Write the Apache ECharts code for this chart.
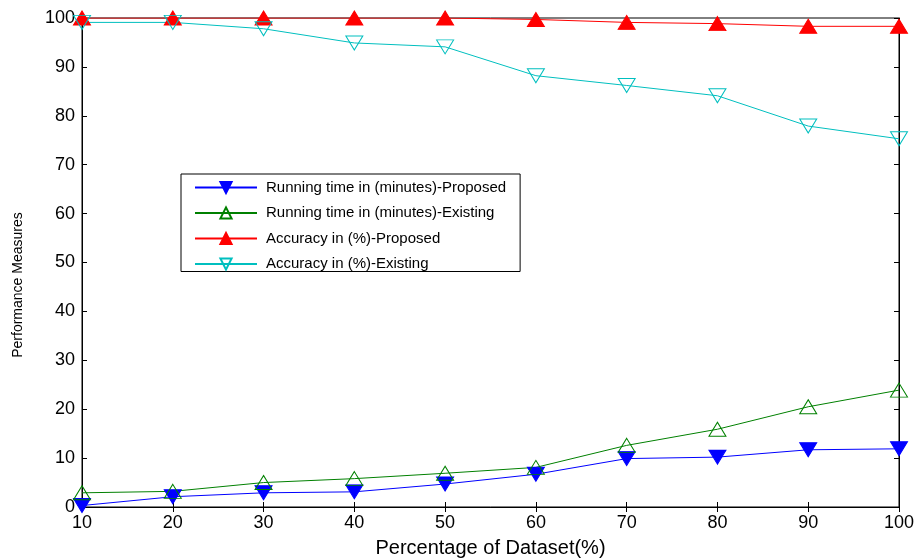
<!DOCTYPE html>
<html>
<head>
<meta charset="utf-8">
<script src="https://cdn.jsdelivr.net/npm/echarts@6/dist/echarts.min.js"></script>
<style>
  html, body { margin: 0; padding: 0; background: #fff; }
  #chart { width: 919px; height: 559px; }
</style>
</head>
<body>
<div id="chart"></div>
<script>
  var xData = [10, 20, 30, 40, 50, 60, 70, 80, 90, 100];
  var runProposed = [0.3, 2.1, 2.9, 3.1, 4.7, 6.7, 9.9, 10.2, 11.7, 11.9];
  var runExisting = [2.9, 3.2, 5.0, 5.8, 6.9, 8.1, 12.6, 15.9, 20.5, 23.9];
  var accProposed = [100, 100, 100, 100, 100, 99.7, 99.1, 98.85, 98.3, 98.3];
  var accExisting = [99.1, 99.1, 97.8, 94.9, 94.1, 88.2, 86.2, 84.1, 77.9, 75.3];
  var seriesNames = [
    "Running time in (minutes)-Proposed",
    "Running time in (minutes)-Existing",
    "Accuracy in (%)-Proposed",
    "Accuracy in (%)-Existing"
  ];

  function pairs(vals) {
    return xData.map(function (x, i) { return [x, vals[i]]; });
  }

  var font = "Arial, 'Liberation Sans', Helvetica, sans-serif";
  var chart = echarts.init(document.getElementById("chart"));

  var axisLine = { lineStyle: { color: "#000", width: 1 } };
  var tick = { inside: true, length: 5, lineStyle: { color: "#000" } };

  // open markers get a transparent fill so the lines below stay visible
  function lineSeries(i, vals, filled, rotate, color) {
    return {
      name: seriesNames[i], type: "line", data: pairs(vals),
      symbol: "triangle", symbolRotate: rotate, symbolSize: [17, 14],
      showAllSymbol: true,
      lineStyle: { color: color, width: 1 },
      itemStyle: { color: filled ? color : "rgba(255,255,255,0)", borderColor: color, borderWidth: 1 },
      emphasis: { disabled: true }
    };
  }

  chart.setOption({
    animation: false,
    textStyle: { fontFamily: font },
    grid: {
      left: 82, right: 20, top: 18, bottom: 52,
      outerBoundsMode: "none",
      show: true, borderColor: "#000", borderWidth: 1
    },
    legend: {
      data: seriesNames,
      orient: "vertical",
      left: 181,
      top: 174,
      padding: [6, 14, 0, 13],
      itemWidth: 62,
      itemHeight: 14,
      itemGap: 10.5,
      borderColor: "#000",
      borderWidth: 1,
      backgroundColor: "#fff",
      textStyle: { fontSize: 15, color: "#000", fontFamily: font, padding: [0, 0, 0, 4] }
    },
    graphic: [{
      type: "text",
      x: 18, y: 285,
      rotation: Math.PI / 2,
      style: {
        text: "Performance Measures", fill: "#000",
        font: "14px " + font, align: "center", verticalAlign: "middle"
      }
    }],
    xAxis: [{
      type: "value", min: 10, max: 100, interval: 10,
      name: "Percentage of Dataset(%)", nameLocation: "middle", nameGap: 31,
      nameTextStyle: { fontSize: 20, color: "#000" },
      axisLine: axisLine, axisTick: tick,
      axisLabel: { fontSize: 18, color: "#000", margin: 7 },
      splitLine: { show: false }
    }, {
      type: "value", position: "top", min: 10, max: 100, interval: 10,
      axisLine: axisLine, axisTick: tick, axisLabel: { show: false }, splitLine: { show: false }
    }],
    yAxis: [{
      type: "value", min: 0, max: 100, interval: 10,
      axisLine: axisLine, axisTick: tick,
      axisLabel: { fontSize: 18, color: "#000", margin: 7 },
      splitLine: { show: false }
    }, {
      type: "value", position: "right", min: 0, max: 100, interval: 10,
      axisLine: axisLine, axisTick: tick, axisLabel: { show: false }, splitLine: { show: false }
    }],
    series: [
      lineSeries(0, runProposed, true, 180, "#0000ff"),
      lineSeries(1, runExisting, false, 0, "#008000"),
      lineSeries(2, accProposed, true, 0, "#ff0000"),
      lineSeries(3, accExisting, false, 180, "#00bfbf")
    ]
  });
</script>
</body>
</html>
